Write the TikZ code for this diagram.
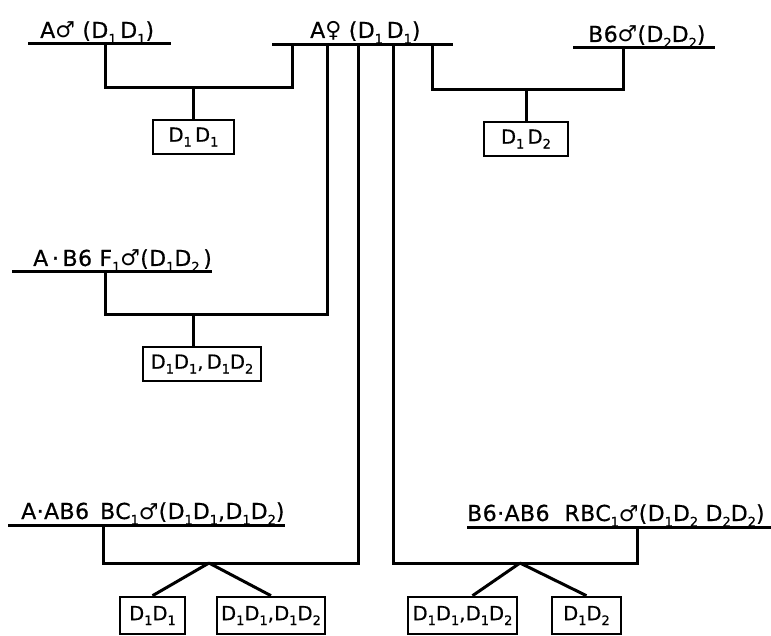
\documentclass[tikz,border=0pt]{standalone}
\usepackage{fontspec}
\setmainfont[LetterSpace=2,FakeBold=0.6]{DejaVu Sans}
\newfontfamily\symfont{DejaVu Sans}
\usetikzlibrary{positioning,calc}
\newcommand\male{{\symfont ♂}}
\newcommand\female{{\symfont ♀}}
\newcommand\sub[1]{\raisebox{-0.45ex}{\fontsize{13}{13}\selectfont #1}}

\tikzset{
  parent/.style={font=\fontsize{22}{24}\selectfont, inner sep=0pt, anchor=base west},
  geno/.style={draw, line width=2.6pt, inner sep=0pt, minimum height=35pt,
    font=\fontsize{19.5}{22}\selectfont},
  link/.style={line width=3pt},
}

\begin{document}
\begin{tikzpicture}[x=1pt,y=-1pt]
  \useasboundingbox (0,0) rectangle (771,636);

  % parent lines and their labels
  \node[parent] (amale) at (40,38) {A\male\ (D\sub1\,D\sub1)};
  \draw[link] (28,44) -- (171,44);
  \node[parent] (afemale) at (310,38) {A\female\ (D\sub1\,D\sub1)};
  \draw[link] (272,45) -- (453,45);
  \node[parent] (bmale) at (588,42) {B6\male(D\sub2D\sub2)};
  \draw[link] (573,48) -- (715,48);
  \node[parent] (fone) at (33,266) {A\,·\,B6 F\sub1\male(D\sub1D\sub2\,)};
  \draw[link] (12,272) -- (212,272);
  \node[parent] (bc) at (21,519) {A·AB6\enspace BC\sub1\male(D\sub1D\sub1,D\sub1D\sub2)};
  \draw[link] (8,525) -- (285,525);
  \node[parent] (rbc) at (467,521) {B6·AB6\ \ RBC\sub1\male(D\sub1D\sub2\ D\sub2D\sub2)};
  \draw[link] (467,527) -- (771,527);

  % drop points on the parent lines
  \coordinate (am) at (105,44);
  \coordinate (bm) at (623,48);
  \coordinate (fm) at (105,272);
  \coordinate (bcm) at (103,525);
  \coordinate (rbcm) at (637,527);
  \coordinate (af1) at (292,45);
  \coordinate (af2) at (327,45);
  \coordinate (af3) at (358,45);
  \coordinate (af4) at (393,45);
  \coordinate (af5) at (432,45);

  % offspring boxes
  \node[geno, minimum width=81pt, minimum height=34pt] (g1) at (193.5,137) {D\sub1\,D\sub1};
  \node[geno, minimum width=84pt, minimum height=34pt] (g2) at (526,139) {D\sub1\,D\sub2};
  \node[geno, minimum width=118pt, minimum height=34pt] (g3) at (202,364) {D\sub1D\sub1,\,D\sub1D\sub2};
  \node[geno, minimum width=65pt, minimum height=37pt] (g4) at (152.5,615.5) {D\sub1D\sub1};
  \node[geno, minimum width=108pt, minimum height=37pt] (g5) at (271,615.5) {D\sub1D\sub1,D\sub1D\sub2};
  \node[geno, minimum width=109pt, minimum height=37pt] (g6) at (462.5,615.5) {D\sub1D\sub1,D\sub1D\sub2};
  \node[geno, minimum width=69pt, minimum height=37pt] (g7) at (586.5,615.5) {D\sub1D\sub2};

  % junctions
  \coordinate (j1) at (g1.north |- 0,88);
  \coordinate (j2) at (g2.north |- 0,90);
  \coordinate (j3) at (193,315);
  \coordinate (j4) at (209,563);
  \coordinate (j5) at (520,563);

  % crosses
  \draw[link] (am) |- (j1) -| (af1);
  \draw[link] (j1) -- (g1.north);
  \draw[link] (af5) |- (j2) -| (bm);
  \draw[link] (j2) -- (g2.north);
  \draw[link] (fm) |- (j3) -| (af2);
  \draw[link] (j3) -- (g3.north -| j3);
  \draw[link] (bcm) |- (j4) -| (af3);
  \draw[link] (j4) -- (g4.north);
  \draw[link] (j4) -- (g5.north);
  \draw[link] (rbcm) |- (j5) -| (af4);
  \draw[link] (j5) -- ($(g6.north)+(10,0)$);
  \draw[link] (j5) -- (g7.north);
\end{tikzpicture}
\end{document}
